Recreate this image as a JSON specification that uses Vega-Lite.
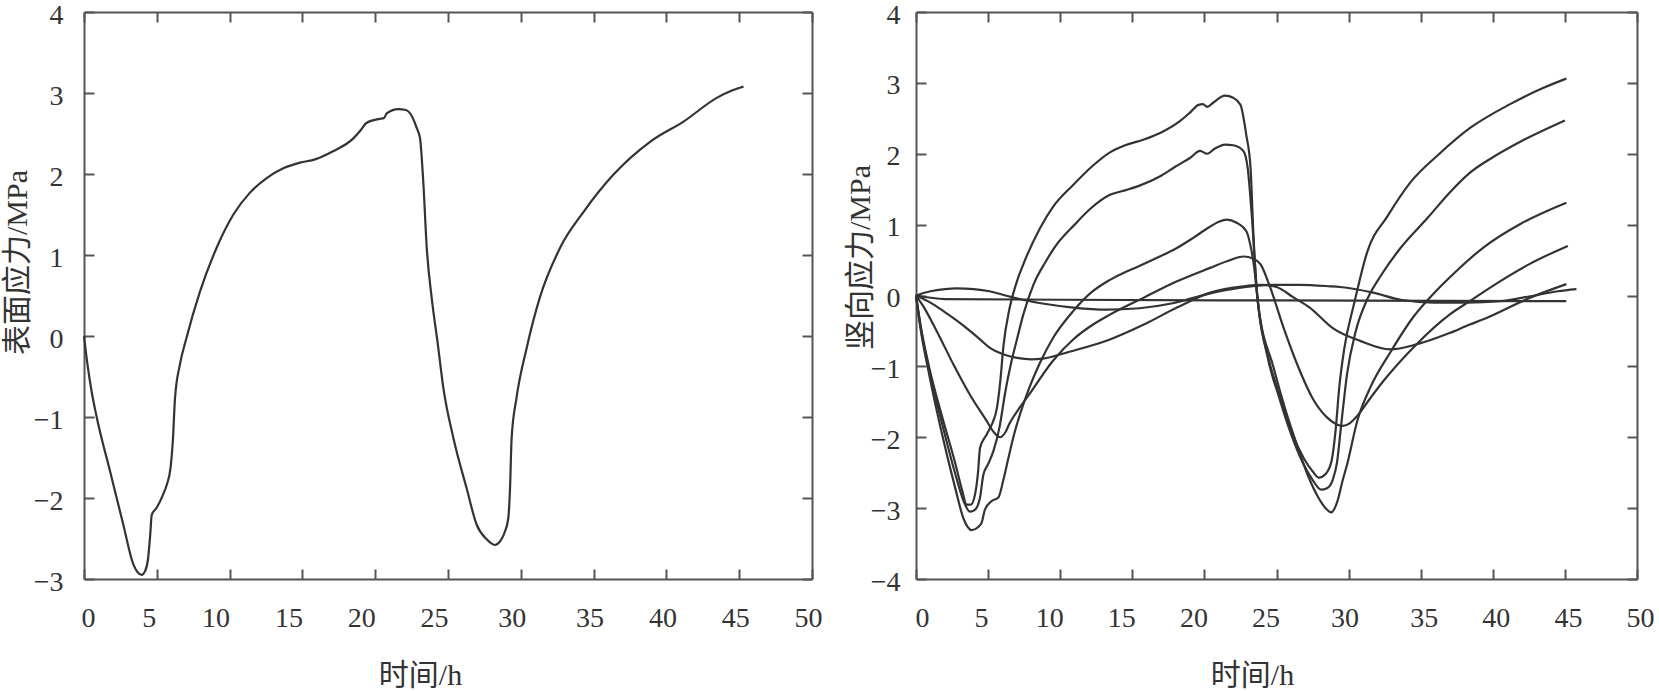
{
  "$schema": "https://vega.github.io/schema/vega-lite/v6.json",
  "background": "white",
  "padding": {"left": 2, "top": 1, "right": 0, "bottom": 0},
  "config": {
    "font": "Liberation Serif, Noto Sans CJK SC",
    "view": {"stroke": null},
    "axis": {
      "labelFont": "Liberation Serif, Noto Sans CJK SC",
      "titleFont": "Liberation Serif, Noto Sans CJK SC",
      "labelFontSize": 28,
      "titleFontSize": 30,
      "titleFontWeight": "normal",
      "labelColor": "#333333",
      "titleColor": "#333333",
      "domainColor": "#555555",
      "domainWidth": 2,
      "tickColor": "#555555",
      "tickWidth": 2,
      "tickSize": -10,
      "grid": false,
      "labelFlush": false,
      "labelOverlap": false
    }
  },
  "datasets": {
    "surface": [
      {"t":0,"v":0},{"t":0.2,"v":-0.3},{"t":0.5,"v":-0.66},{"t":0.87,"v":-1.0},{"t":1.79,"v":-1.67},{"t":2.7,"v":-2.33},{"t":3.39,"v":-2.82},{"t":3.7,"v":-2.92},{"t":3.96,"v":-2.95},{"t":4.2,"v":-2.9},{"t":4.4,"v":-2.75},{"t":4.55,"v":-2.45},{"t":4.65,"v":-2.21},{"t":4.99,"v":-2.12},{"t":5.4,"v":-1.97},{"t":5.68,"v":-1.84},{"t":5.95,"v":-1.62},{"t":6.1,"v":-1.3},{"t":6.25,"v":-0.77},{"t":6.59,"v":-0.35},{"t":7.0,"v":-0.05},{"t":7.97,"v":0.55},{"t":9.11,"v":1.09},{"t":10.26,"v":1.5},{"t":11.4,"v":1.77},{"t":12.55,"v":1.95},{"t":13.69,"v":2.07},{"t":14.84,"v":2.14},{"t":15.87,"v":2.18},{"t":17.1,"v":2.28},{"t":18.5,"v":2.44},{"t":19.0,"v":2.54},{"t":19.4,"v":2.63},{"t":20.3,"v":2.68},{"t":20.6,"v":2.69},{"t":20.8,"v":2.75},{"t":21.6,"v":2.8},{"t":22.1,"v":2.79},{"t":22.5,"v":2.72},{"t":22.85,"v":2.57},{"t":23.08,"v":2.44},{"t":23.3,"v":1.91},{"t":23.54,"v":1.09},{"t":23.88,"v":0.47},{"t":24.3,"v":-0.1},{"t":24.68,"v":-0.64},{"t":25.37,"v":-1.26},{"t":26.28,"v":-1.88},{"t":26.97,"v":-2.33},{"t":27.66,"v":-2.51},{"t":28.2,"v":-2.58},{"t":28.6,"v":-2.53},{"t":28.9,"v":-2.42},{"t":29.14,"v":-2.25},{"t":29.26,"v":-1.88},{"t":29.37,"v":-1.26},{"t":29.7,"v":-0.77},{"t":30.4,"v":-0.15},{"t":31.3,"v":0.47},{"t":32.7,"v":1.09},{"t":34.3,"v":1.53},{"t":36.35,"v":1.99},{"t":38.9,"v":2.4},{"t":41.2,"v":2.65},{"t":43.46,"v":2.94},{"t":44.5,"v":3.03},{"t":45.3,"v":3.08}
    ],
    "vertical": [
      {"s":"A","t":0,"v":0},{"s":"A","t":0.3,"v":-0.4},{"s":"A","t":0.9,"v":-1.0},{"s":"A","t":1.8,"v":-1.7},{"s":"A","t":2.7,"v":-2.35},{"s":"A","t":3.2,"v":-2.75},{"s":"A","t":3.51,"v":-2.95},{"s":"A","t":3.8,"v":-2.95},{"s":"A","t":4.1,"v":-2.8},{"s":"A","t":4.3,"v":-2.5},{"s":"A","t":4.44,"v":-2.15},{"s":"A","t":4.9,"v":-1.96},{"s":"A","t":5.3,"v":-1.8},{"s":"A","t":5.6,"v":-1.6},{"s":"A","t":5.85,"v":-1.2},{"s":"A","t":6.06,"v":-0.72},{"s":"A","t":6.5,"v":-0.17},{"s":"A","t":7.0,"v":0.2},{"s":"A","t":7.44,"v":0.44},{"s":"A","t":8.6,"v":0.95},{"s":"A","t":9.5,"v":1.25},{"s":"A","t":10.9,"v":1.56},{"s":"A","t":12.2,"v":1.82},{"s":"A","t":13.45,"v":2.02},{"s":"A","t":14.5,"v":2.12},{"s":"A","t":15.8,"v":2.2},{"s":"A","t":17.0,"v":2.3},{"s":"A","t":18.3,"v":2.46},{"s":"A","t":19.0,"v":2.58},{"s":"A","t":19.6,"v":2.69},{"s":"A","t":19.9,"v":2.7},{"s":"A","t":20.2,"v":2.66},{"s":"A","t":20.6,"v":2.72},{"s":"A","t":21.43,"v":2.82},{"s":"A","t":22.0,"v":2.79},{"s":"A","t":22.5,"v":2.69},{"s":"A","t":22.9,"v":2.27},{"s":"A","t":23.2,"v":1.8},{"s":"A","t":23.4,"v":0.86},{"s":"A","t":23.7,"v":-0.08},{"s":"A","t":24.5,"v":-0.93},{"s":"A","t":25.3,"v":-1.45},{"s":"A","t":26.1,"v":-1.95},{"s":"A","t":26.9,"v":-2.3},{"s":"A","t":27.5,"v":-2.48},{"s":"A","t":27.95,"v":-2.57},{"s":"A","t":28.4,"v":-2.52},{"s":"A","t":28.8,"v":-2.35},{"s":"A","t":29.1,"v":-1.9},{"s":"A","t":29.35,"v":-1.3},{"s":"A","t":29.7,"v":-0.75},{"s":"A","t":30.4,"v":-0.1},{"s":"A","t":31.3,"v":0.62},{"s":"A","t":32.7,"v":1.12},{"s":"A","t":34.3,"v":1.6},{"s":"A","t":36.3,"v":2.0},{"s":"A","t":38.4,"v":2.36},{"s":"A","t":41.2,"v":2.7},{"s":"A","t":43.4,"v":2.92},{"s":"A","t":45.1,"v":3.06},
      {"s":"B","t":0,"v":0},{"s":"B","t":0.3,"v":-0.42},{"s":"B","t":0.9,"v":-1.05},{"s":"B","t":1.8,"v":-1.8},{"s":"B","t":2.7,"v":-2.5},{"s":"B","t":3.3,"v":-2.9},{"s":"B","t":3.74,"v":-3.05},{"s":"B","t":4.1,"v":-3.02},{"s":"B","t":4.44,"v":-2.85},{"s":"B","t":4.67,"v":-2.53},{"s":"B","t":5.0,"v":-2.38},{"s":"B","t":5.36,"v":-2.2},{"s":"B","t":5.8,"v":-1.85},{"s":"B","t":6.2,"v":-1.35},{"s":"B","t":6.6,"v":-0.95},{"s":"B","t":7.0,"v":-0.62},{"s":"B","t":7.44,"v":-0.27},{"s":"B","t":8.14,"v":0.15},{"s":"B","t":9.0,"v":0.48},{"s":"B","t":9.76,"v":0.72},{"s":"B","t":11.0,"v":1.0},{"s":"B","t":12.07,"v":1.22},{"s":"B","t":13.45,"v":1.42},{"s":"B","t":14.6,"v":1.49},{"s":"B","t":15.5,"v":1.55},{"s":"B","t":16.9,"v":1.68},{"s":"B","t":18.0,"v":1.82},{"s":"B","t":19.0,"v":1.94},{"s":"B","t":19.7,"v":2.04},{"s":"B","t":20.2,"v":2.0},{"s":"B","t":20.7,"v":2.07},{"s":"B","t":21.43,"v":2.13},{"s":"B","t":22.0,"v":2.12},{"s":"B","t":22.7,"v":2.04},{"s":"B","t":23.0,"v":1.8},{"s":"B","t":23.3,"v":1.09},{"s":"B","t":23.6,"v":0.15},{"s":"B","t":24.3,"v":-0.79},{"s":"B","t":25.2,"v":-1.45},{"s":"B","t":26.0,"v":-1.95},{"s":"B","t":26.8,"v":-2.35},{"s":"B","t":27.5,"v":-2.6},{"s":"B","t":28.1,"v":-2.74},{"s":"B","t":28.5,"v":-2.72},{"s":"B","t":28.9,"v":-2.6},{"s":"B","t":29.2,"v":-2.35},{"s":"B","t":29.5,"v":-1.8},{"s":"B","t":29.9,"v":-1.1},{"s":"B","t":30.5,"v":-0.5},{"s":"B","t":31.3,"v":-0.05},{"s":"B","t":32.3,"v":0.3},{"s":"B","t":33.6,"v":0.67},{"s":"B","t":35.5,"v":1.1},{"s":"B","t":37.0,"v":1.45},{"s":"B","t":38.4,"v":1.73},{"s":"B","t":40.0,"v":1.95},{"s":"B","t":42.0,"v":2.18},{"s":"B","t":45.0,"v":2.47},
      {"s":"C","t":0,"v":0},{"s":"C","t":0.3,"v":-0.45},{"s":"C","t":0.9,"v":-1.1},{"s":"C","t":1.8,"v":-1.95},{"s":"C","t":2.7,"v":-2.7},{"s":"C","t":3.3,"v":-3.15},{"s":"C","t":3.86,"v":-3.31},{"s":"C","t":4.3,"v":-3.27},{"s":"C","t":4.56,"v":-3.2},{"s":"C","t":4.78,"v":-3.02},{"s":"C","t":5.25,"v":-2.9},{"s":"C","t":5.71,"v":-2.85},{"s":"C","t":6.06,"v":-2.6},{"s":"C","t":6.4,"v":-2.3},{"s":"C","t":6.75,"v":-2.0},{"s":"C","t":7.68,"v":-1.4},{"s":"C","t":8.6,"v":-0.95},{"s":"C","t":9.5,"v":-0.6},{"s":"C","t":10.9,"v":-0.22},{"s":"C","t":12.2,"v":0.05},{"s":"C","t":13.45,"v":0.22},{"s":"C","t":14.6,"v":0.34},{"s":"C","t":15.3,"v":0.4},{"s":"C","t":16.9,"v":0.55},{"s":"C","t":18.0,"v":0.66},{"s":"C","t":19.2,"v":0.81},{"s":"C","t":20.3,"v":0.96},{"s":"C","t":21.0,"v":1.04},{"s":"C","t":21.55,"v":1.07},{"s":"C","t":22.2,"v":1.03},{"s":"C","t":22.9,"v":0.91},{"s":"C","t":23.2,"v":0.7},{"s":"C","t":23.45,"v":0.4},{"s":"C","t":23.7,"v":-0.08},{"s":"C","t":24.8,"v":-1.02},{"s":"C","t":25.6,"v":-1.6},{"s":"C","t":26.4,"v":-2.1},{"s":"C","t":27.2,"v":-2.55},{"s":"C","t":27.9,"v":-2.85},{"s":"C","t":28.4,"v":-3.0},{"s":"C","t":28.8,"v":-3.06},{"s":"C","t":29.2,"v":-2.92},{"s":"C","t":29.6,"v":-2.6},{"s":"C","t":29.9,"v":-2.38},{"s":"C","t":30.6,"v":-1.77},{"s":"C","t":31.5,"v":-1.3},{"s":"C","t":32.9,"v":-0.8},{"s":"C","t":34.5,"v":-0.3},{"s":"C","t":36.0,"v":0.05},{"s":"C","t":37.5,"v":0.35},{"s":"C","t":39.3,"v":0.67},{"s":"C","t":42.0,"v":1.02},{"s":"C","t":45.1,"v":1.31},
      {"s":"D","t":0,"v":0},{"s":"D","t":0.5,"v":-0.15},{"s":"D","t":1.43,"v":-0.5},{"s":"D","t":2.59,"v":-0.97},{"s":"D","t":3.74,"v":-1.4},{"s":"D","t":4.9,"v":-1.77},{"s":"D","t":5.4,"v":-1.93},{"s":"D","t":5.83,"v":-2.0},{"s":"D","t":6.2,"v":-1.93},{"s":"D","t":6.5,"v":-1.8},{"s":"D","t":7.2,"v":-1.58},{"s":"D","t":7.9,"v":-1.38},{"s":"D","t":9.5,"v":-0.92},{"s":"D","t":10.9,"v":-0.62},{"s":"D","t":12.2,"v":-0.42},{"s":"D","t":13.45,"v":-0.27},{"s":"D","t":15.8,"v":-0.03},{"s":"D","t":18.1,"v":0.2},{"s":"D","t":20.4,"v":0.39},{"s":"D","t":21.8,"v":0.5},{"s":"D","t":22.7,"v":0.55},{"s":"D","t":23.4,"v":0.52},{"s":"D","t":23.9,"v":0.44},{"s":"D","t":24.5,"v":0.15},{"s":"D","t":25.5,"v":-0.46},{"s":"D","t":26.2,"v":-0.85},{"s":"D","t":26.8,"v":-1.15},{"s":"D","t":27.5,"v":-1.45},{"s":"D","t":28.5,"v":-1.72},{"s":"D","t":29.6,"v":-1.84},{"s":"D","t":30.1,"v":-1.8},{"s":"D","t":30.6,"v":-1.7},{"s":"D","t":31.5,"v":-1.45},{"s":"D","t":32.4,"v":-1.21},{"s":"D","t":34.7,"v":-0.69},{"s":"D","t":37.0,"v":-0.27},{"s":"D","t":38.4,"v":-0.08},{"s":"D","t":40.5,"v":0.2},{"s":"D","t":42.6,"v":0.45},{"s":"D","t":45.2,"v":0.7},
      {"s":"E","t":0,"v":0},{"s":"E","t":1.0,"v":-0.1},{"s":"E","t":1.9,"v":-0.22},{"s":"E","t":3.0,"v":-0.38},{"s":"E","t":3.74,"v":-0.5},{"s":"E","t":4.5,"v":-0.63},{"s":"E","t":5.13,"v":-0.74},{"s":"E","t":6.05,"v":-0.83},{"s":"E","t":7.0,"v":-0.88},{"s":"E","t":8.0,"v":-0.9},{"s":"E","t":8.8,"v":-0.89},{"s":"E","t":10.7,"v":-0.79},{"s":"E","t":13.45,"v":-0.62},{"s":"E","t":15.8,"v":-0.41},{"s":"E","t":18.1,"v":-0.17},{"s":"E","t":20.4,"v":0.04},{"s":"E","t":22.7,"v":0.13},{"s":"E","t":24.0,"v":0.15},{"s":"E","t":25.0,"v":0.12},{"s":"E","t":26.2,"v":-0.03},{"s":"E","t":27.3,"v":-0.17},{"s":"E","t":28.9,"v":-0.46},{"s":"E","t":30.8,"v":-0.64},{"s":"E","t":32.9,"v":-0.76},{"s":"E","t":34.7,"v":-0.69},{"s":"E","t":37.0,"v":-0.53},{"s":"E","t":38.4,"v":-0.41},{"s":"E","t":39.3,"v":-0.34},{"s":"E","t":42.6,"v":-0.03},{"s":"E","t":45.1,"v":0.16},
      {"s":"F","t":0,"v":0},{"s":"F","t":2,"v":-0.05},{"s":"F","t":10,"v":-0.06},{"s":"F","t":25,"v":-0.07},{"s":"F","t":45.1,"v":-0.08},
      {"s":"G","t":0,"v":0},{"s":"G","t":1.0,"v":0.06},{"s":"G","t":2.0,"v":0.09},{"s":"G","t":2.8,"v":0.1},{"s":"G","t":4.0,"v":0.09},{"s":"G","t":5.1,"v":0.06},{"s":"G","t":6.2,"v":0.0},{"s":"G","t":7.4,"v":-0.06},{"s":"G","t":9.0,"v":-0.12},{"s":"G","t":10.9,"v":-0.17},{"s":"G","t":13.2,"v":-0.2},{"s":"G","t":15.5,"v":-0.18},{"s":"G","t":17.8,"v":-0.11},{"s":"G","t":20.2,"v":0.02},{"s":"G","t":22.5,"v":0.11},{"s":"G","t":24.5,"v":0.15},{"s":"G","t":26.6,"v":0.15},{"s":"G","t":28.7,"v":0.13},{"s":"G","t":29.4,"v":0.12},{"s":"G","t":31.7,"v":0.04},{"s":"G","t":33.6,"v":-0.06},{"s":"G","t":35.9,"v":-0.1},{"s":"G","t":38.2,"v":-0.1},{"s":"G","t":40.5,"v":-0.08},{"s":"G","t":42.6,"v":-0.01},{"s":"G","t":44.5,"v":0.06},{"s":"G","t":45.8,"v":0.09}
    ]
  },
  "hconcat": [
    {
      "width": 728,
      "height": 567,
      "data": {"name": "surface"},
      "layer": [
        {
          "mark": {"type": "line", "interpolate": "monotone", "stroke": "#333333", "strokeWidth": 2.2},
          "encoding": {
            "x": {"field": "t", "type": "quantitative", "scale": {"domain": [0, 50], "nice": false},
              "axis": {"orient": "bottom", "values": [0,5,10,15,20,25,30,35,40,45,50], "title": "时间/h",
                "labelPadding": 49, "labelBaseline": "middle",
                "labelOffset": {"condition": [{"test": "datum.value == 0", "value": 4}, {"test": "datum.value == 5", "value": -8}, {"test": "datum.value <= 25", "value": -14}, {"test": "datum.value == 30", "value": -9}], "value": -4},
                "titleX": 336, "titleY": 96, "titleBaseline": "middle"}},
            "y": {"field": "v", "type": "quantitative", "scale": {"domain": [-3, 4], "nice": false},
              "axis": {"orient": "left", "values": [-3,-2,-1,0,1,2,3,4], "title": "表面应力/MPa",
                "labelPadding": 31, "labelBaseline": "middle", "labelOffset": 3,
                "titleX": -67, "titleY": 250, "titleBaseline": "middle", "titleAngle": -90}}
          }
        },
        {
          "mark": {"type": "line", "strokeOpacity": 0},
          "encoding": {
            "x": {"field": "t", "type": "quantitative", "scale": {"domain": [0, 50], "nice": false},
              "axis": {"orient": "top", "values": [0,5,10,15,20,25,30,35,40,45,50], "labels": false, "title": null}},
            "y": {"field": "v", "type": "quantitative", "scale": {"domain": [-3, 4], "nice": false},
              "axis": {"orient": "right", "values": [-3,-2,-1,0,1,2,3,4], "labels": false, "title": null}}
          }
        }
      ],
      "resolve": {"axis": {"x": "independent", "y": "independent"}}
    },
    {
      "width": 721,
      "height": 567,
      "data": {"name": "vertical"},
      "layer": [
        {
          "mark": {"type": "line", "interpolate": "monotone", "stroke": "#333333", "strokeWidth": 2.2},
          "encoding": {
            "detail": {"field": "s", "type": "nominal"},
            "x": {"field": "t", "type": "quantitative", "scale": {"domain": [0, 50], "nice": false},
              "axis": {"orient": "bottom", "values": [0,5,10,15,20,25,30,35,40,45,50], "title": "时间/h",
                "labelPadding": 49, "labelBaseline": "middle",
                "labelOffset": {"condition": [{"test": "datum.value == 0", "value": 6}, {"test": "datum.value == 5", "value": -7}, {"test": "datum.value <= 25", "value": -11}, {"test": "datum.value == 30", "value": -4}], "value": 3},
                "titleX": 336, "titleY": 96, "titleBaseline": "middle"}},
            "y": {"field": "v", "type": "quantitative", "scale": {"domain": [-4, 4], "nice": false},
              "axis": {"orient": "left", "values": [-4,-3,-2,-1,0,1,2,3,4], "title": "竖向应力/MPa",
                "labelPadding": 26, "labelBaseline": "middle", "labelOffset": 3,
                "titleX": -56, "titleY": 245, "titleBaseline": "middle", "titleAngle": -90}}
          }
        },
        {
          "mark": {"type": "line", "strokeOpacity": 0},
          "encoding": {
            "detail": {"field": "s", "type": "nominal"},
            "x": {"field": "t", "type": "quantitative", "scale": {"domain": [0, 50], "nice": false},
              "axis": {"orient": "top", "values": [0,5,10,15,20,25,30,35,40,45,50], "labels": false, "title": null}},
            "y": {"field": "v", "type": "quantitative", "scale": {"domain": [-4, 4], "nice": false},
              "axis": {"orient": "right", "values": [-4,-3,-2,-1,0,1,2,3,4], "labels": false, "title": null}}
          }
        }
      ],
      "resolve": {"axis": {"x": "independent", "y": "independent"}}
    }
  ],
  "spacing": 104,
  "bounds": "flush"
}
